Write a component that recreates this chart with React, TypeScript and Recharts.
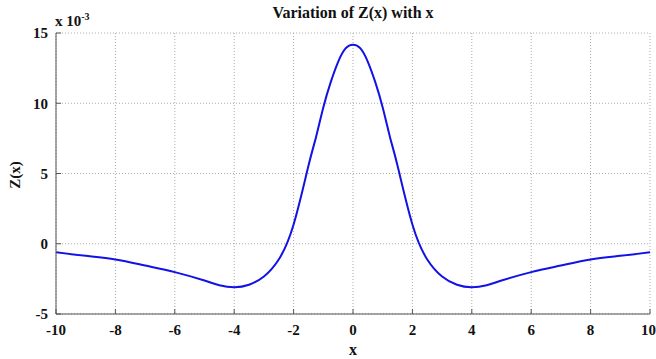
import { LineChart, Line, XAxis, YAxis, CartesianGrid } from 'recharts';

// x positions and Z(x) values (in units of 1e-3)
const xValues = [-10, -9, -8, -7, -6, -5, -4.5, -4, -3.5, -3, -2.5, -2, -1.5, -1.25, -1, -0.75, -0.5, -0.25, 0,
  0.25, 0.5, 0.75, 1, 1.25, 1.5, 2, 2.5, 3, 3.5, 4, 4.5, 5, 6, 7, 8, 9, 10];
const zValues = [-0.6, -0.86, -1.12, -1.55, -2.02, -2.62, -2.95, -3.1, -2.92, -2.33, -1.12, 1.37, 5.55, 7.55, 9.7, 11.5, 12.95, 13.9, 14.17,
  13.9, 12.95, 11.5, 9.7, 7.55, 5.55, 1.37, -1.12, -2.33, -2.92, -3.1, -2.95, -2.62, -2.02, -1.55, -1.12, -0.86, -0.6];

const xTicks = [-10, -8, -6, -4, -2, 0, 2, 4, 6, 8, 10];
const yTicks = [-5, 0, 5, 10, 15];

const FONT = '"Liberation Serif", "Times New Roman", Times, serif';
const AXIS = '#555';

export default function App() {
  const data = xValues.map((x, i) => ({ x, z: zValues[i] }));
  const tickStyle = { fontFamily: FONT, fontSize: 15, fontWeight: 'bold', fill: '#111' };

  return (
    <div style={{ position: 'absolute', left: 0, top: 0, width: 656, height: 359, background: '#fff', fontFamily: FONT }}>
      <LineChart width={656} height={359} data={data} margin={{ top: 33, right: 6, bottom: 0, left: 0 }}>
        <CartesianGrid stroke="#aaa" strokeDasharray="1 2" horizontalValues={yTicks} verticalValues={xTicks} />
        <XAxis dataKey="x" type="number" domain={[-10, 10]} ticks={xTicks} height={45}
          stroke={AXIS} tickSize={-5} tickMargin={15} tick={tickStyle} />
        <XAxis xAxisId="top" orientation="top" dataKey="x" type="number" domain={[-10, 10]} ticks={xTicks} height={0}
          stroke={AXIS} tickSize={-5} tick={false} />
        <YAxis type="number" domain={[-5, 15]} ticks={yTicks} width={56}
          stroke={AXIS} tickSize={-5} tickMargin={13} tick={tickStyle} />
        <YAxis yAxisId="right" orientation="right" type="number" domain={[-5, 15]} ticks={yTicks} width={0}
          stroke={AXIS} tickSize={-5} tick={false} />
        <Line dataKey="z" type="natural" stroke="#1212e6" strokeWidth={2} dot={false} isAnimationActive={false} />
      </LineChart>
      <div style={{ position: 'absolute', left: 0, width: 656, top: 4, textAlign: 'center', paddingLeft: 50, boxSizing: 'border-box', fontWeight: 'bold', fontSize: 16, color: '#111' }}>
        Variation of Z(x) with x
      </div>
      <div style={{ position: 'absolute', left: 55, top: 11, fontWeight: 'bold', fontSize: 15, color: '#111', whiteSpace: 'nowrap' }}>
        x 10<sup style={{ fontSize: 10 }}>-3</sup>
      </div>
      <div style={{ position: 'absolute', left: 15, top: 175, transform: 'translate(-50%, -50%) rotate(-90deg)', fontWeight: 'bold', fontSize: 15, color: '#111', whiteSpace: 'nowrap' }}>
        Z(x)
      </div>
      <div style={{ position: 'absolute', left: 353, top: 350, transform: 'translate(-50%, -50%)', fontWeight: 'bold', fontSize: 16, color: '#111' }}>
        x
      </div>
    </div>
  );
}
